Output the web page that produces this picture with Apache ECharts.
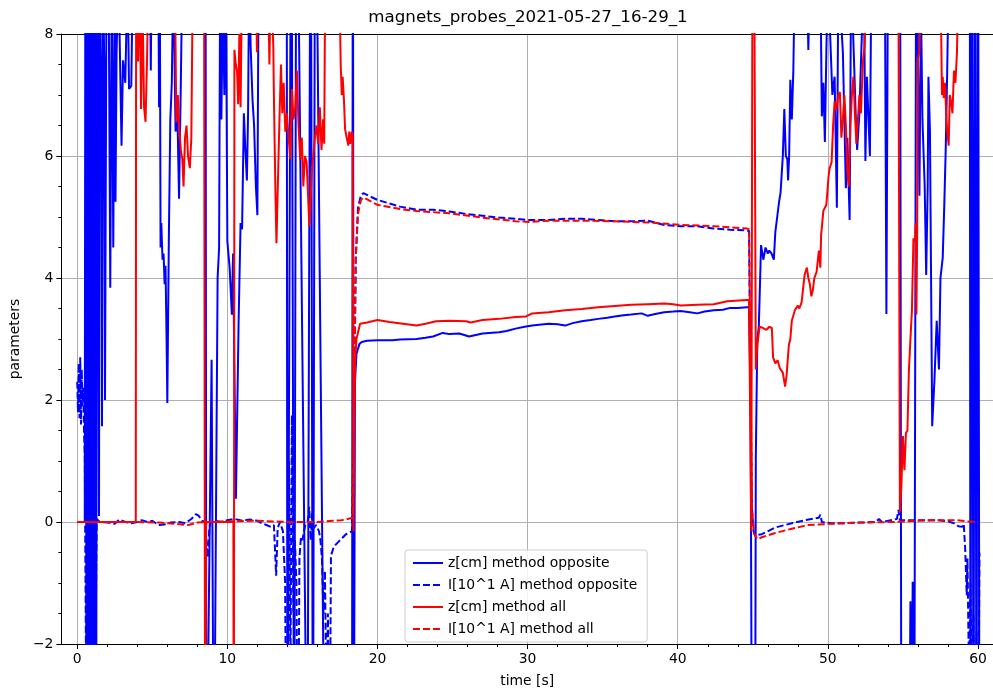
<!DOCTYPE html>
<html>
<head>
<meta charset="utf-8">
<script src="https://cdn.jsdelivr.net/npm/echarts@6/dist/echarts.min.js"></script>
<style>
html,body{margin:0;padding:0;background:#fff;}
#chart{width:993px;height:693px;}
</style>
</head>
<body>
<div id="chart"></div>
<script>
const titleText = 'magnets_probes_2021-05-27_16-29_1';
const seriesNames = ['z[cm] method opposite', 'I[10^1 A] method opposite', 'z[cm] method all', 'I[10^1 A] method all'];
const xTicks = [0, 10, 20, 30, 40, 50, 60];
const xMinorTicks = [2,4,6,8,12,14,16,18,22,24,26,28,32,34,36,38,42,44,46,48,52,54,56,58];
const xRange = [-1.057, 61.0];
const yRange = [-2, 8];

// z[cm] method opposite  [time, value]
const zOpposite = [
[0,0],[0.5,0],[0.55,12],[0.62,-5],[0.7,12],[0.78,-5],[0.86,12],[0.94,-5],[1.02,12],[1.1,-5],[1.18,12],[1.26,-5],[1.33,12],
[1.37,7.8],[1.45,0.1],[1.5,9],[1.6,7.1],[1.65,1.57],[1.72,9],[1.8,7.5],[1.85,2.0],[1.95,9],[2.1,8.5],[2.2,3.84],[2.3,9],
[2.4,4.5],[2.5,9],[2.55,5.25],[2.62,7.7],[2.75,9],[2.95,6.17],[3.05,7.57],[3.2,7.2],[3.35,9],[3.45,7.1],[3.6,7.15],[3.7,9],
[4.85,9],[4.9,7.4],[4.95,9],[5.4,9],[5.45,6.8],[5.5,9],[5.55,4.5],[5.6,4.9],[5.68,4.3],[5.75,4.4],[5.82,3.9],[5.88,4.2],[5.95,3.0],
[6.0,1.95],[6.1,4.6],[6.2,6.6],[6.3,7.2],[6.4,9],[6.55,6.4],[6.65,7.0],[6.78,5.3],[6.9,7.2],[7.0,9],[8.55,9],[8.6,-5],
[8.95,2.66],[9.1,-5],[9.35,4.0],[9.45,4.5],[9.52,9],[9.6,6.6],[9.7,8.5],[9.8,7.0],[9.9,9],[10.0,4.6],[10.15,4.17],[10.3,3.4],
[10.38,4.4],[10.57,0.38],[10.75,3.3],[10.88,4.9],[10.98,4.8],[11.1,6.7],[11.2,6.1],[11.3,5.6],[11.38,6.7],[11.45,9],[11.55,7.8],
[11.68,6.9],[11.78,6.5],[11.9,5.5],[12.0,5.03],[12.08,9],[13.95,12],[14.0,-5],[14.26,12],[14.45,-5],[14.6,12],[15.33,-5],
[15.55,12],[15.7,-5],[15.85,12],[16.5,-5],[18.3,-5],[18.36,12],[18.42,-5],[18.5,2.3],[18.6,2.76],[18.8,2.92],[18.95,2.95],
[19.3,2.97],[20.0,2.98],[21.0,2.98],[21.5,2.99],[22.6,3.0],[23.2,3.02],[23.7,3.04],[24.35,3.10],[24.8,3.08],[25.45,3.09],
[26.1,3.04],[27.0,3.09],[28.1,3.11],[28.6,3.13],[29.2,3.17],[29.8,3.2],[30.3,3.22],[31.4,3.25],[32.0,3.24],[32.5,3.22],
[33.0,3.26],[33.6,3.29],[34.2,3.31],[34.7,3.33],[35.3,3.35],[35.8,3.37],[36.4,3.39],[36.9,3.40],[37.6,3.42],[38.0,3.38],
[38.5,3.41],[39.1,3.44],[39.7,3.45],[40.2,3.46],[40.8,3.44],[41.3,3.42],[41.8,3.45],[42.4,3.47],[43.0,3.48],[43.5,3.51],
[44.0,3.51],[44.6,3.52],[44.75,3.52],[44.85,2.0],[44.95,-5],[45.15,-5],[45.2,1.03],[45.3,3.0],[45.4,3.2],[45.55,4.54],
[45.7,4.3],[45.85,4.5],[46.0,4.4],[46.1,4.45],[46.25,4.4],[46.4,4.3],[46.5,4.75],[46.6,4.77],[46.75,5.25],[46.85,5.4],
[47.0,6.0],[47.1,6.77],[47.2,6.0],[47.3,5.95],[47.35,5.6],[47.42,6.0],[47.5,7.25],[47.6,6.6],[47.7,7.4],[47.8,9],[48.6,9],
[48.7,7.74],[48.8,9],[49.5,9],[49.6,6.65],[49.7,7.2],[49.8,6.23],[49.9,7.7],[50.0,9],[50.3,7.0],[50.45,7.3],[50.6,5.15],
[50.7,9],[51.0,7.7],[51.2,5.47],[51.3,6.3],[51.45,4.95],[51.55,9],[51.75,7.5],[51.85,6.7],[51.95,6.1],[52.1,6.7],[52.2,7.5],
[52.4,9],[52.5,5.92],[52.6,7.3],[52.8,6.0],[52.9,9],[53.8,9],[53.9,3.41],[54.0,9],[54.8,12],[54.9,-5],[55.4,-5],[55.5,-1.3],
[55.6,-3],[55.65,-0.98],[55.75,-5],[55.85,-5],[55.9,12],[56.0,7.6],[56.1,5.35],[56.2,8.5],[56.3,6.6],[56.45,5.5],[56.55,4.05],
[56.65,5.5],[56.7,7.3],[56.8,6.4],[56.95,1.57],[57.1,2.33],[57.25,3.3],[57.4,2.5],[57.5,4.0],[57.65,4.33],[57.75,5.15],
[57.85,6.1],[57.95,7.4],[58.05,9],[59.4,9],[59.45,12],[59.5,-5],[59.6,12],[59.7,-5],[59.8,12],[59.9,-5],[60.0,12],[60.1,-5]
];

// I[10^1 A] method opposite
const iOpposite = [
[0,2.3],[0.05,1.8],[0.1,2.6],[0.15,1.7],[0.2,2.7],[0.25,1.6],[0.3,2.5],[0.35,1.9],[0.4,2.2],[0.45,1.5],[0.5,1.1],[0.6,-3],
[0.7,0.9],[0.8,-3],[0.9,0.6],[1.0,-3],[1.1,0.3],[1.2,-2.5],[1.3,0.05],[1.5,0.0],[2.0,-0.01],[2.5,-0.03],[2.8,0.04],[3.2,0.0],
[3.6,-0.02],[4.0,0.0],[4.3,0.03],[4.7,0.0],[5.0,0.02],[5.4,-0.05],[5.8,-0.04],[6.2,-0.01],[6.8,0.0],[7.2,-0.02],[7.6,0.05],
[7.9,0.13],[8.1,0.1],[8.3,0.02],[8.5,0.0],[8.6,-0.3],[8.7,-0.58],[8.8,-0.1],[8.9,0.0],[9.2,0.02],[9.6,0.0],[10.0,0.03],
[10.5,0.05],[11.0,0.02],[11.5,0.04],[12.0,0.02],[12.3,-0.02],[12.6,-0.05],[12.9,-0.08],[13.1,-0.05],[13.25,-0.88],[13.35,-0.1],
[13.5,0.0],[13.7,-0.15],[13.85,-1.0],[13.95,-5],[14.1,1.0],[14.2,-2.5],[14.3,1.75],[14.4,-1.5],[14.5,-0.3],[14.6,-1.0],
[14.7,-5],[14.8,-0.6],[14.9,-0.25],[15.0,-0.3],[15.1,-0.15],[15.2,-0.05],[15.35,0.0],[15.45,0.25],[15.55,-0.3],[15.65,0.15],
[15.75,-0.1],[15.9,-0.05],[16.0,-0.05],[16.1,-0.15],[16.2,-0.3],[16.3,-0.6],[16.4,-1.5],[16.5,-0.8],[16.6,-3],[16.7,-1.5],
[16.8,-5],[16.9,-0.55],[17.1,-0.4],[17.3,-0.35],[17.5,-0.3],[17.7,-0.25],[17.9,-0.2],[18.1,-0.18],[18.3,-0.15],[18.4,-0.12],
[18.45,2.0],[18.55,4.3],[18.7,5.15],[18.9,5.36],[19.06,5.39],[20.0,5.28],[21.5,5.17],[22.6,5.12],[23.7,5.12],[24.8,5.09],
[25.9,5.05],[27.0,5.02],[28.1,4.99],[29.2,4.97],[30.1,4.95],[31.4,4.95],[32.5,4.97],[33.6,4.97],[34.7,4.95],[35.8,4.93],
[36.9,4.93],[38.0,4.94],[39.1,4.87],[40.2,4.85],[41.3,4.85],[42.4,4.81],[43.5,4.79],[44.6,4.78],[44.75,4.77],[44.85,2.0],
[44.95,0.2],[45.05,-0.15],[45.15,-0.22],[45.6,-0.2],[46.5,-0.09],[47.6,-0.02],[48.5,0.03],[49.4,0.07],[49.5,0.12],[49.6,0.0],
[50.2,-0.02],[51.0,-0.02],[52.1,-0.01],[53.2,0.0],[53.4,0.05],[53.6,0.0],[54.6,0.05],[54.7,0.2],[54.8,0.03],[55.5,0.03],
[56.5,0.03],[57.3,0.03],[58.0,0.01],[58.4,-0.02],[58.7,-0.07],[58.95,-0.08],[59.05,-0.03],[59.15,-0.45],[59.25,-1.2],
[59.3,-0.6],[59.4,-2.5],[59.5,-1.0],[59.6,-3],[59.7,-1.5],[59.8,-4],[59.9,-1.8],[60.0,-5],[60.1,-0.5]
];

// z[cm] method all
const zAll = [
[0,0],[3.9,0],[3.93,12],[4.02,9],[4.05,7.55],[4.15,9],[4.25,6.77],[4.35,8.5],[4.45,6.8],[4.55,6.56],[4.65,7.6],[4.75,9],
[6.5,9],[6.6,6.55],[6.7,7.0],[6.8,6.45],[6.9,6.1],[7.0,5.95],[7.08,5.5],[7.18,6.3],[7.28,6.5],[7.38,6.0],[7.5,5.8],[7.6,6.3],
[7.7,9],[8.45,9],[8.52,-5],[8.58,0],[10.4,0],[10.43,-5],[10.47,7.74],[10.55,7.53],[10.65,7.37],[10.72,6.85],[10.8,8.0],
[10.88,6.8],[10.98,9],[11.9,9],[11.97,7.7],[12.05,9],[12.7,9],[12.8,7.5],[12.9,9],[13.0,9],[13.06,7.8],[13.1,6.98],
[13.2,5.42],[13.27,4.57],[13.35,5.4],[13.47,6.6],[13.57,7.5],[13.66,6.7],[13.75,7.2],[13.86,6.4],[13.97,6.7],[14.08,6.3],
[14.19,5.95],[14.3,7.1],[14.4,6.6],[14.52,6.8],[14.63,7.4],[14.74,6.5],[14.85,5.95],[14.96,6.3],[15.06,5.5],[15.17,6.0],
[15.28,5.9],[15.4,5.2],[15.46,4.85],[15.55,5.3],[15.64,5.8],[15.72,6.0],[15.83,6.3],[15.94,6.5],[16.05,6.2],[16.16,6.8],
[16.27,6.1],[16.38,6.6],[16.45,6.2],[16.52,9],[17.45,9],[17.55,7.5],[17.62,7.0],[17.68,7.3],[17.77,6.9],[17.84,6.44],
[17.95,6.3],[18.06,6.17],[18.12,6.4],[18.2,6.2],[18.29,6.4],[18.35,6.35],[18.4,-0.15],[18.45,1.5],[18.5,2.6],[18.6,3.0],
[18.84,3.25],[19.3,3.27],[20.0,3.31],[20.8,3.28],[21.7,3.25],[22.6,3.22],[23.2,3.25],[23.9,3.29],[24.8,3.30],[25.9,3.29],
[26.2,3.27],[27.0,3.31],[28.1,3.33],[29.2,3.36],[29.9,3.37],[30.3,3.42],[31.4,3.44],[32.5,3.47],[33.6,3.49],[34.7,3.52],
[35.8,3.54],[36.9,3.56],[38.0,3.57],[39.1,3.58],[39.7,3.57],[40.2,3.55],[41.3,3.56],[42.4,3.57],[43.3,3.62],[44.6,3.64],
[44.75,3.64],[44.9,-0.15],[45.0,12],[45.1,9],[45.2,2.5],[45.3,2.9],[45.45,3.2],[45.6,3.19],[45.9,3.15],[46.1,3.2],
[46.27,3.18],[46.35,2.7],[46.5,2.6],[46.65,2.65],[46.8,2.52],[47.0,2.45],[47.15,2.22],[47.25,2.4],[47.4,2.9],[47.5,3.0],
[47.6,3.3],[47.8,3.47],[47.9,3.45],[48.0,3.55],[48.1,3.5],[48.25,3.6],[48.45,4.05],[48.6,4.17],[48.7,4.0],[48.8,3.9],
[48.9,3.7],[49.0,3.8],[49.1,4.0],[49.25,4.1],[49.4,4.45],[49.5,4.17],[49.55,4.7],[49.7,5.1],[49.8,5.12],[49.9,5.2],
[50.05,5.68],[50.12,5.8],[50.25,5.9],[50.35,6.5],[50.45,6.9],[50.55,6.75],[50.7,7.0],[50.8,7.05],[50.9,6.3],[51.0,6.6],
[51.1,7.0],[51.2,6.5],[51.3,5.74],[51.4,5.5],[51.5,6.5],[51.6,7.0],[51.7,7.3],[51.8,6.7],[51.9,6.2],[52.0,6.6],[52.1,7.0],
[52.2,6.7],[52.35,7.6],[52.45,7.8],[52.6,9],[54.7,9],[54.8,0.16],[54.9,0.6],[55.0,1.41],[55.1,0.85],[55.2,1.46],[55.3,1.5],
[55.4,2.5],[55.5,3.0],[55.6,3.47],[55.7,4.65],[55.8,4.6],[55.85,4.9],[55.9,3.4],[55.95,4.8],[56.0,7.6],[56.1,7.7],[56.2,9],
[57.5,9],[57.6,7.0],[57.65,7.3],[57.72,6.95],[57.8,7.2],[57.88,6.7],[57.95,6.4],[58.05,6.17],[58.12,7.0],[58.2,6.9],
[58.3,6.7],[58.4,7.4],[58.5,7.2],[58.6,7.7],[58.7,9],[60.0,9]
];

// I[10^1 A] method all
const iAll = [
[0,0.0],[2,0.0],[4,0.0],[5.5,-0.01],[6.5,-0.03],[7.4,-0.05],[8.0,-0.01],[9,0.0],[10,0.01],[12,0.02],[14,0.0],[16,0.0],
[17,0.02],[17.6,0.03],[18.0,0.05],[18.35,0.07],[18.45,2.0],[18.55,4.3],[18.7,5.05],[18.9,5.28],[19.06,5.32],[20.0,5.20],
[21.5,5.13],[22.6,5.10],[24.8,5.06],[27.0,4.99],[29.2,4.93],[30.1,4.92],[31.4,4.94],[33.6,4.94],[35.8,4.93],[38.0,4.91],
[40.2,4.87],[42.4,4.85],[44.6,4.81],[44.75,4.8],[44.85,2.5],[44.95,0.2],[45.1,-0.2],[45.3,-0.28],[45.6,-0.25],[46.5,-0.18],
[47.6,-0.11],[48.7,-0.05],[50.2,-0.03],[52.1,-0.01],[54.3,0.0],[56.0,0.02],[57.5,0.03],[58.6,0.03],[59.3,0.01],[60.0,0.0]
];

const FONT = 'DejaVu Sans';
const blue = '#0000ff', red = '#ff0000';
const dash = [7, 3];

function mkSeries(name, data, color, type) {
  return {
    name: name, type: 'line', data: data, xAxisIndex: 0, yAxisIndex: 0,
    symbol: 'none', showSymbol: false, clip: true, animation: false,
    lineStyle: { color: color, width: 2, type: type },
    itemStyle: { color: color },
    emphasis: { disabled: true }
  };
}

const chart = echarts.init(document.getElementById('chart'), null, { renderer: 'canvas' });
const minusFmt = v => (v < 0 ? '\u2212' + Math.abs(v) : String(v));

chart.setOption({
  animation: false,
  backgroundColor: '#ffffff',
  textStyle: { fontFamily: FONT },
  title: {
    text: titleText, left: 528, top: 9, textAlign: 'center', padding: 0,
    textStyle: { fontFamily: FONT, fontSize: 16.7, fontWeight: 'normal', color: '#000' }
  },
  grid: { left: 59, top: 34, right: -5, bottom: 43, show: false, containLabel: false },
  legend: {
    orient: 'vertical', left: 405, top: 550,
    data: seriesNames,
    itemWidth: 30, itemHeight: 14, itemGap: 8,
    padding: [6, 10, 6, 7],
    itemStyle: { opacity: 0 },
    backgroundColor: 'rgba(255,255,255,0.85)', borderColor: '#cccccc', borderWidth: 1, borderRadius: 3,
    textStyle: { fontFamily: FONT, fontSize: 13.9, color: '#000' },
    selectedMode: false
  },
  xAxis: [
    {
      type: 'value', min: xRange[0], max: xRange[1], position: 'bottom',
      name: 'time [s]', nameLocation: 'middle', nameGap: 30,
      nameTextStyle: { fontFamily: FONT, fontSize: 13.9, color: '#000' },
      axisLine: { show: true, onZero: false, lineStyle: { color: '#000', width: 1 } },
      axisTick: { show: true, inside: false, length: 5, customValues: xTicks, lineStyle: { color: '#000', width: 1 } },
      axisLabel: { show: true, customValues: xTicks, margin: 8, fontFamily: FONT, fontSize: 13.9, color: '#000', formatter: minusFmt },
      splitLine: { show: true, lineStyle: { color: '#b0b0b0', width: 1 } }
    },
    {
      type: 'value', min: xRange[0], max: xRange[1], position: 'bottom',
      axisLine: { show: false, onZero: false },
      axisTick: { show: true, inside: false, length: 3, customValues: xMinorTicks, lineStyle: { color: '#000', width: 1 } },
      axisLabel: { show: false },
      splitLine: { show: false }
    },
    {
      type: 'value', min: xRange[0], max: xRange[1], position: 'top',
      axisLine: { show: true, onZero: false, lineStyle: { color: '#000', width: 1 } },
      axisTick: { show: false },
      axisLabel: { show: false },
      splitLine: { show: false }
    }
  ],
  yAxis: {
    type: 'value', min: yRange[0], max: yRange[1], interval: 2,
    name: 'parameters', nameLocation: 'middle', nameGap: 30, nameRotate: 90,
    nameTextStyle: { fontFamily: FONT, fontSize: 13.9, color: '#000' },
    axisLine: { show: true, onZero: false, lineStyle: { color: '#000', width: 1 } },
    axisTick: { show: true, inside: false, length: 5, lineStyle: { color: '#000', width: 1 } },
    minorTick: { show: true, splitNumber: 4, length: 3, lineStyle: { color: '#000', width: 1 } },
    axisLabel: { margin: 8, fontFamily: FONT, fontSize: 13.9, color: '#000', formatter: minusFmt },
    splitLine: { show: true, lineStyle: { color: '#b0b0b0', width: 1 } }
  },
  series: [
    mkSeries(seriesNames[0], zOpposite, blue, 'solid'),
    mkSeries(seriesNames[1], iOpposite, blue, dash),
    mkSeries(seriesNames[2], zAll, red, 'solid'),
    mkSeries(seriesNames[3], iAll, red, dash)
  ]
});
</script>
</body>
</html>
